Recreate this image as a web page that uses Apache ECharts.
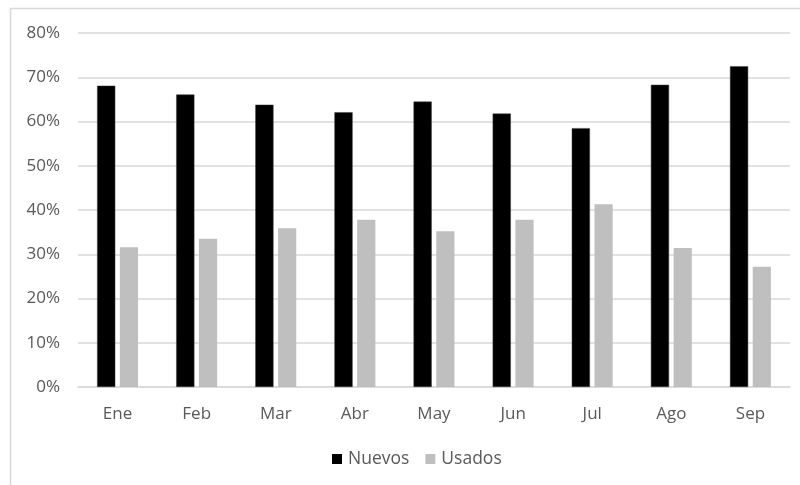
<!DOCTYPE html>
<html>
<head>
<meta charset="utf-8">
<script src="https://cdn.jsdelivr.net/npm/echarts@6/dist/echarts.min.js"></script>
<style>
  html, body { margin: 0; padding: 0; background: #fff; }
  #chart { width: 800px; height: 485px; }
</style>
</head>
<body>
<div id="chart"></div>
<script>
// Monthly share of new vs used units (percent)
const months = ['Ene', 'Feb', 'Mar', 'Abr', 'May', 'Jun', 'Jul', 'Ago', 'Sep'];
const nuevos = [68.1, 66.1, 63.8, 62.1, 64.5, 61.8, 58.5, 68.3, 72.5];
const usados = [31.6, 33.5, 35.9, 37.8, 35.2, 37.8, 41.3, 31.4, 27.2];
const yTicks = { min: 0, max: 80, interval: 10 };

const font = '"Open Sans", "Liberation Sans", sans-serif';
const textColor = '#595959';
const gridColor = '#d9d9d9';

const chart = echarts.init(document.getElementById('chart'), null, { renderer: 'canvas' });
chart.setOption({
  animation: false,
  backgroundColor: '#fff',
  textStyle: { fontFamily: font },
  graphic: [{
    type: 'rect',
    shape: { x: 10.5, y: 8.5, width: 820, height: 520 },
    style: { fill: 'none', stroke: gridColor, lineWidth: 1.5 },
    silent: true
  }],
  grid: { left: 78, right: 10, top: 33, bottom: 98, containLabel: false },
  legend: {
    data: ['Nuevos', 'Usados'],
    bottom: 12,
    left: 327,
    icon: 'rect',
    itemWidth: 10,
    itemHeight: 10,
    itemGap: 16,
    itemStyle: { borderWidth: 0 },
    textStyle: { color: textColor, fontSize: 17.5, fontFamily: font, padding: [0, 0, 0, 1] }
  },
  xAxis: {
    type: 'category',
    data: months,
    axisLine: { show: true, lineStyle: { color: gridColor, width: 1.5 } },
    axisTick: { show: false },
    axisLabel: { color: textColor, fontSize: 17, margin: 19, fontFamily: font }
  },
  yAxis: {
    type: 'value',
    min: yTicks.min,
    max: yTicks.max,
    interval: yTicks.interval,
    axisLine: { show: false },
    axisTick: { show: false },
    splitLine: { lineStyle: { color: gridColor, width: 1.5 } },
    axisLabel: { color: textColor, fontSize: 17, margin: 18, formatter: '{value}%', fontFamily: font }
  },
  series: [
    {
      name: 'Nuevos',
      type: 'bar',
      data: nuevos,
      barWidth: '23%',
      barGap: '25%',
      itemStyle: { color: '#000000', borderColor: '#404040', borderWidth: 0.5 }
    },
    {
      name: 'Usados',
      type: 'bar',
      data: usados,
      barWidth: '23%',
      itemStyle: { color: '#bfbfbf' }
    }
  ]
});
</script>
</body>
</html>
